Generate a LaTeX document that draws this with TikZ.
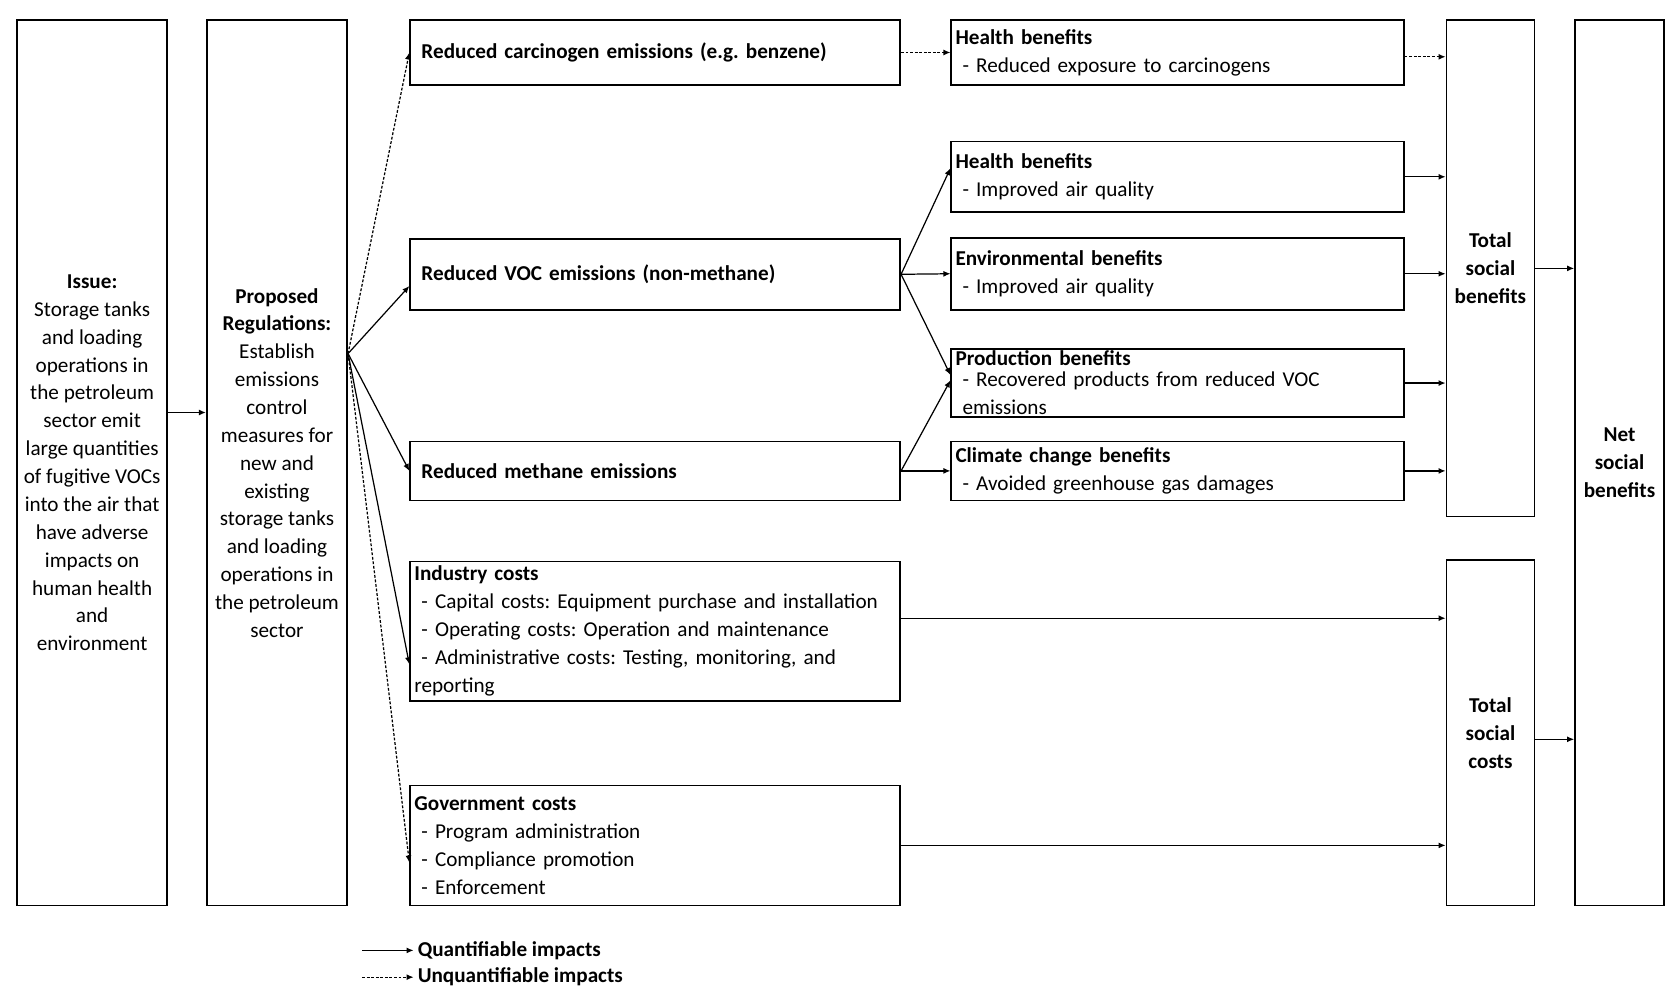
\documentclass[tikz,border=0pt]{standalone}
\usepackage{fontspec}
\setmainfont{Carlito}
\usetikzlibrary{arrows.meta}
\newcommand{\pxu}{0.010763cm}
\frenchspacing

\begin{document}
\begin{tikzpicture}[x=\pxu, y=-\pxu, font=\fontsize{6.05}{7.96}\selectfont,
    tall box/.style={draw, line width=0.5pt, inner sep=0pt, align=center, minimum height=8.890cm},
    left box/.style={draw, line width=0.5pt, inner xsep=1.2pt, inner ysep=0pt, align=left, text width=4.835cm, minimum height=#1},
    ben box/.style={draw, line width=0.5pt, inner xsep=1.2pt, inner ysep=0pt, align=left, text width=4.458cm, minimum height=#1},
    sum box/.style={draw, line width=0.5pt, inner sep=0pt, align=center, minimum width=0.883cm, minimum height=#1, font=\fontsize{6.05}{7.96}\selectfont\bfseries},
    quant/.style={-{Latex[length=2pt, width=1.7pt]}, line width=0.35pt},
    unquant/.style={quant, dash pattern=on 0.8pt off 0.5pt}]
    \useasboundingbox (0,0) rectangle (1567,933.3);

    % issue and regulations
    \node[tall box, minimum width=1.507cm] (issue) at (86,432) {\textbf{Issue:}\\Storage tanks\\and loading\\operations in\\the petroleum\\sector emit\\large quantities\\of fugitive VOCs\\into the air that\\have adverse\\impacts on\\human health\\and\\environment};
    \node[tall box, minimum width=1.410cm] (prop) at (258.5,432) {\textbf{Proposed}\\\textbf{Regulations:}\\Establish\\emissions\\control\\measures for\\new and\\existing\\storage tanks\\and loading\\operations in\\the petroleum\\sector};

    % impacts
    \node[left box=0.646cm] (carc) at (611.5,49) {\ \textbf{Reduced carcinogen emissions (e.g. benzene)}};
    \node[left box=0.710cm] (voc) at (611.5,256) {\ \textbf{Reduced VOC emissions (non-methane)}};
    \node[left box=0.592cm] (meth) at (611.5,439.5) {\ \textbf{Reduced methane emissions}};
    \node[left box=1.399cm] (ind) at (611.5,589) {\textbf{Industry costs}\\\ - Capital costs: Equipment purchase and installation\\\ - Operating costs: Operation and maintenance\\\ - Administrative costs: Testing, monitoring, and\\reporting};
    \node[left box=1.205cm] (gov) at (611.5,789) {\textbf{Government costs}\\\ - Program administration\\\ - Compliance promotion\\\ - Enforcement};

    % benefits
    \node[ben box=0.646cm] (h1) at (1099,49) {\textbf{Health benefits}\\\ - Reduced exposure to carcinogens};
    \node[ben box=0.710cm] (h2) at (1099,165) {\textbf{Health benefits}\\\ - Improved air quality};
    \node[ben box=0.721cm] (env) at (1099,255.5) {\textbf{Environmental benefits}\\\ - Improved air quality};
    \node[ben box=0.678cm] (prod) at (1099,357.5) {};
    \node[align=left, text width=4.458cm, inner xsep=1.2pt, inner ysep=0pt] (prodtext) at (1099,357) {\textbf{Production benefits}\\[-1.8pt]\ - Recovered products from reduced VOC\\\ emissions};
    \node[ben box=0.592cm] (clim) at (1099,439.5) {\textbf{Climate change benefits}\\\ - Avoided greenhouse gas damages};

    % totals
    \node[sum box=4.983cm] (tsb) at (1391,250.5) {Total\\social\\benefits};
    \node[sum box=3.466cm] (tsc) at (1391,684) {Total\\social\\costs};
    \node[sum box=8.890cm, minimum width=0.893cm] (net) at (1511.5,432) {Net\\social\\benefits};

    % connectors
    \coordinate (fan) at (prop.east |- 0,330);
    \path (issue.east |- 0,385) edge[quant] (prop.west |- 0,385)
        (fan) edge[unquant] (carc.west)
        (fan) edge[quant] (voc.west |- 0,267)
        (fan) edge[quant] (meth.west)
        (fan) edge[quant] (ind.west |- 0,620)
        (fan) edge[unquant] (gov.west |- 0,805)
        (carc.east) edge[unquant] (h1.west)
        (voc.east) edge[quant] (h2.west |- 0,157)
        (voc.east) edge[quant] (env.west)
        (voc.east) edge[quant] (prod.west |- 0,350)
        (meth.east) edge[quant] (prod.west |- 0,355)
        (meth.east) edge[quant] (clim.west);

    \path (h1.east |- 0,53) edge[unquant] (tsb.west |- 0,53)
        (h2.east) edge[quant] (h2.east -| tsb.west)
        (env.east) edge[quant] (env.east -| tsb.west)
        (prod.east) edge[quant] (prod.east -| tsb.west)
        (clim.east) edge[quant] (clim.east -| tsb.west)
        (ind.east |- 0,577) edge[quant] (tsc.west |- 0,577)
        (gov.east) edge[quant] (gov.east -| tsc.west)
        (tsb.east) edge[quant] (tsb.east -| net.west)
        (tsc.east |- 0,690) edge[quant] (net.west |- 0,690);

    % legend
    \node[anchor=west, inner xsep=1pt, font=\fontsize{6.05}{7.96}\selectfont\bfseries] (qlab) at (386,887) {Quantifiable impacts};
    \node[anchor=west, inner xsep=1pt, font=\fontsize{6.05}{7.96}\selectfont\bfseries] (ulab) at (386,912) {Unquantifiable impacts};
    \coordinate (q0) at (338,887);
    \coordinate (u0) at (338,912);
    \draw[quant] (q0) -- (qlab.west);
    \draw[unquant] (u0) -- (ulab.west);
\end{tikzpicture}
\end{document}
